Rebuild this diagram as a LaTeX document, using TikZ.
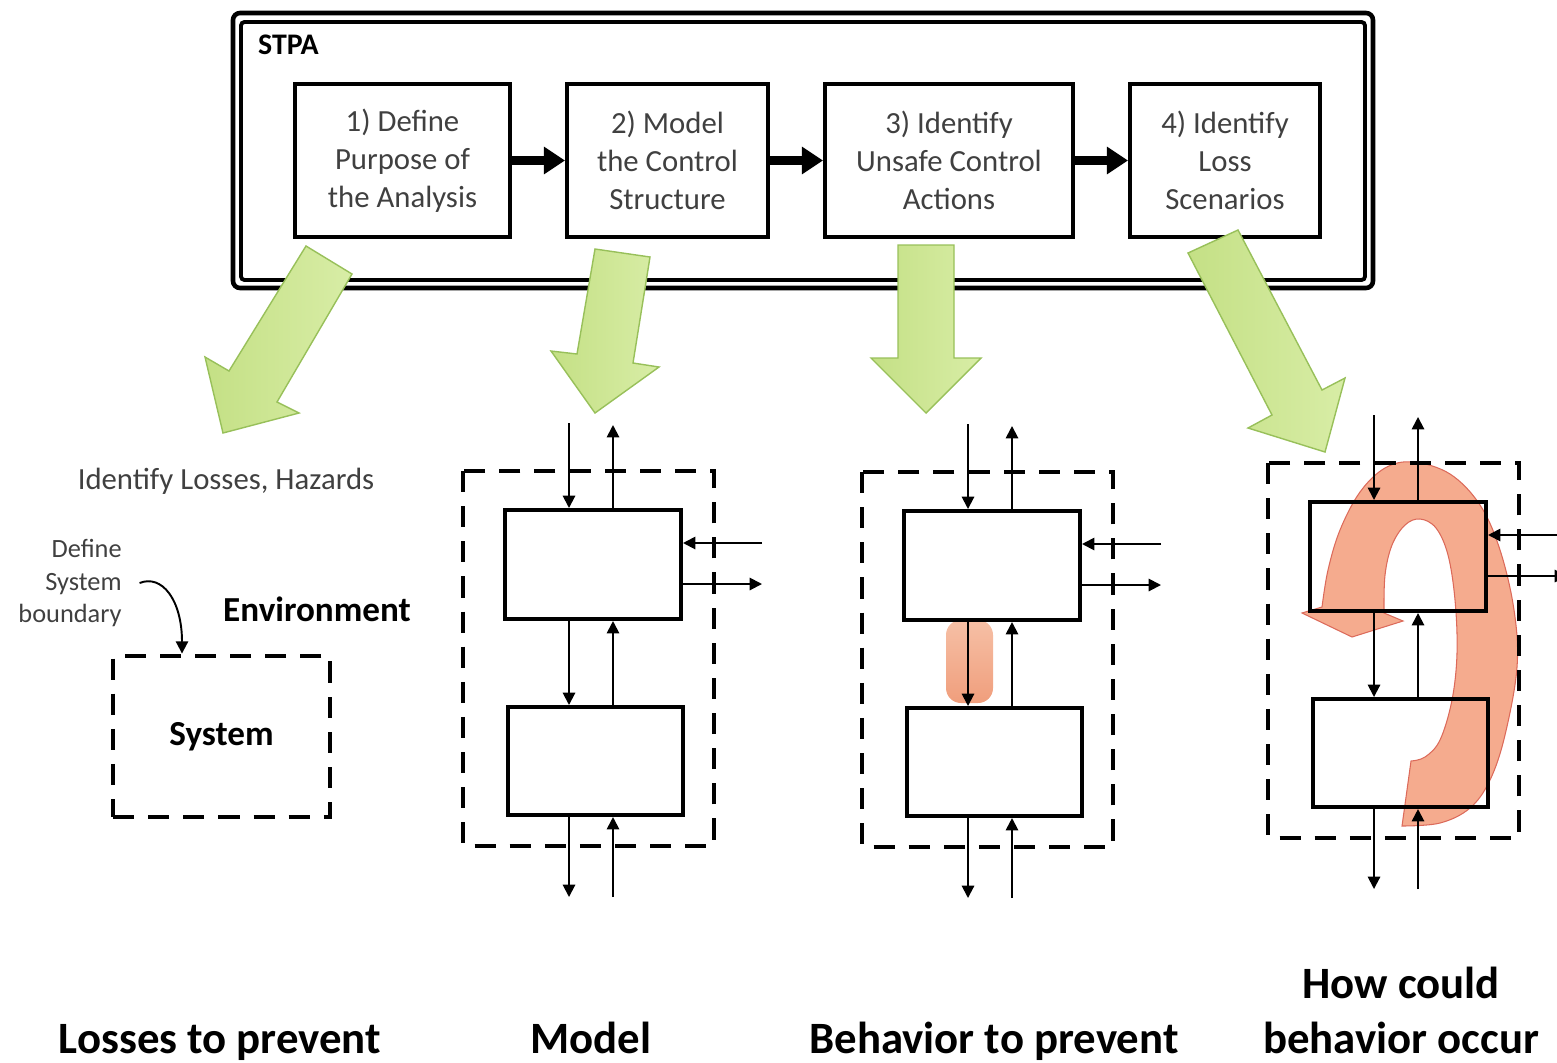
\documentclass[tikz,border=0pt]{standalone}
\usepackage{fontspec}
\setmainfont{Carlito}
\usetikzlibrary{arrows.meta,calc}

\definecolor{txtgray}{HTML}{404040}
\definecolor{leafA}{HTML}{C4E085}
\definecolor{leafB}{HTML}{D8EDA6}
\definecolor{leafEdge}{HTML}{98C05A}
\definecolor{salmon}{HTML}{F4A282}
\definecolor{salmonEdge}{HTML}{DC6A5A}
\definecolor{hlTop}{HTML}{F6C0A6}
\definecolor{hlBot}{HTML}{F09E7C}

\tikzset{
  frameline/.style={draw, line width=2.6pt, rounded corners=4pt},
  stepbox/.style={draw, line width=2.3pt, align=center, text=txtgray,
    font=\fontsize{17.5}{21.5}\selectfont, minimum height=3.06cm, inner sep=0pt},
  steparrow/.style={line width=5pt, -{Triangle[length=12pt,width=15pt]}},
  leafarrow/.style={draw=leafEdge, line width=0.8pt, left color=leafA, right color=leafB},
  sysbound/.style={draw, line width=2.8pt, dash pattern=on 12pt off 8pt},
  cbox/.style={draw, line width=2.3pt, inner sep=0pt, anchor=north west},
  sig/.style={line width=1.1pt, -{Triangle[length=7pt,width=7pt]}},
  caption/.style={font=\bfseries\fontsize{25.5}{30}\selectfont, anchor=base},
  ctrlpanel/.pic={
    \draw[sysbound] (0,0) rectangle (251,375);
    \node[cbox, minimum width=3.52cm, minimum height=2.18cm] (-up) at (40,37) {};
    \node[cbox, minimum width=3.5cm, minimum height=2.16cm] (-lo) at (43,234) {};
    \coordinate (-in) at (106,-48);
    \coordinate (-out) at (150,-46);
    \coordinate (-rin) at (299,72);
    \coordinate (-rout) at (299,113);
    \coordinate (-bout) at (106,426);
    \coordinate (-bin) at (150,426);
    \draw[sig] (-in) -- (-in |- -up.north);
    \draw[sig] (-out |- -up.north) -- (-out);
    \draw[sig] (-rin) -- (-rin -| -up.east);
    \draw[sig] (-rout -| -up.east) -- (-rout);
    \draw[sig] (-in |- -up.south) -- (-in |- -lo.north);
    \draw[sig] (-out |- -lo.north) -- (-out |- -up.south);
    \draw[sig] (-bout |- -lo.south) -- (-bout);
    \draw[sig] (-bin) -- (-bin |- -lo.south);
  }
}

\begin{document}
\begin{tikzpicture}[x=0.02cm, y=-0.02cm]
  \useasboundingbox (0,0) rectangle (1557,1062);
  \clip (0,0) rectangle (1557,1062);

  % STPA frame with its four steps
  \draw[frameline] (233,13) rectangle (1373,288);
  \draw[frameline, line width=2.2pt, rounded corners=2pt] (241,22) rectangle (1365,280);
  \node[anchor=west, font=\bfseries\fontsize{17}{20}\selectfont] (stpa) at (252,45) {STPA};

  \node[stepbox, minimum width=4.3cm]  (s1) at (402.5,160.5) {1) Define\\Purpose of\\the Analysis};
  \node[stepbox, minimum width=4.02cm] (s2) at (667.5,160.5) {2) Model\\the Control\\Structure};
  \node[stepbox, minimum width=4.96cm] (s3) at (949,160.5) {3) Identify\\Unsafe Control\\Actions};
  \node[stepbox, minimum width=3.8cm]  (s4) at (1225,160.5) {4) Identify\\Loss\\Scenarios};

  \draw[steparrow] (s1) -- (s2);
  \draw[steparrow] (s2) -- (s3);
  \draw[steparrow] (s3) -- (s4);

  % green block arrows leading to each result
  \draw[leafarrow] (306,246) -- (352,274) -- (277,402) -- (299,413) -- (223,433)
        -- (205,357) -- (229,371) -- cycle;
  \draw[leafarrow] (595,249) -- (650,257) -- (633,363) -- (659,367) -- (595,413)
        -- (551,351) -- (577,354) -- cycle;
  \draw[leafarrow] (898,245) -- (954,245) -- (954,358) -- (981,358) -- (926,413)
        -- (871,358) -- (898,358) -- cycle;
  \draw[leafarrow] (1188,253) -- (1238,230) -- (1322,390) -- (1345,378) -- (1325,452)
        -- (1248,428) -- (1272,415) -- cycle;

  % losses and hazards
  \node[text=txtgray, font=\fontsize{17.5}{21}\selectfont] (lh) at (226,481) {Identify Losses, Hazards};
  \node[font=\bfseries\fontsize{20}{24}\selectfont] (env) at (317,609) {Environment};
  \node[sysbound, minimum width=4.34cm, minimum height=3.22cm, inner sep=0pt,
        font=\bfseries\fontsize{20}{24}\selectfont] (sys) at (221.5,736.5) {System};
  \node[anchor=east, align=right, text=txtgray, inner sep=0pt,
        font=\fontsize{15}{18.4}\selectfont] (def) at (122,583) {Define\\System\\boundary};
  \coordinate (bx) at (182,600);
  \draw[sig] ([xshift=10pt]def.east) .. controls (162,574) and (182,600) .. (bx |- sys.north);

  % control structure
  \pic (m) at (463,471) {ctrlpanel};

  % unsafe control action highlight
  \shade[top color=hlTop, bottom color=hlBot, rounded corners=8.5pt] (946,620) rectangle (993,703);
  \pic (b) at (862,472) {ctrlpanel};

  % loss scenario loop
  \draw[fill=salmon, fill opacity=0.9, draw=salmonEdge, line width=0.6pt]
    (1402,826)
    -- plot[smooth, tension=0.6] coordinates {(1402,826) (1440,823) (1470,808) (1490,780)
       (1505,735) (1517,667) (1514,610) (1500,550) (1480,505) (1450,474) (1413,462)
       (1385,468) (1360,492) (1340,530) (1328,570) (1322,607)}
    -- (1302,613) -- (1352,637) -- (1403,621)
    -- plot[smooth, tension=0.6] coordinates {(1384,613) (1385,575) (1392,545) (1405,525)
       (1420,519) (1436,528) (1448,555) (1455,600) (1457,653) (1452,700) (1440,740)
       (1425,757) (1411,761)}
    -- cycle;
  \pic (h) at (1268,463) {ctrlpanel};

  % captions
  \node[caption] (c1) at (220,1053) {Losses to prevent};
  \node[caption] (c2) at (591,1053) {Model};
  \node[caption] (c3) at (994,1053) {Behavior to prevent};
  \node[caption] (c4a) at (1401,998) {How could};
  \node[caption] (c4b) at (1401,1053) {behavior occur};
\end{tikzpicture}
\end{document}
